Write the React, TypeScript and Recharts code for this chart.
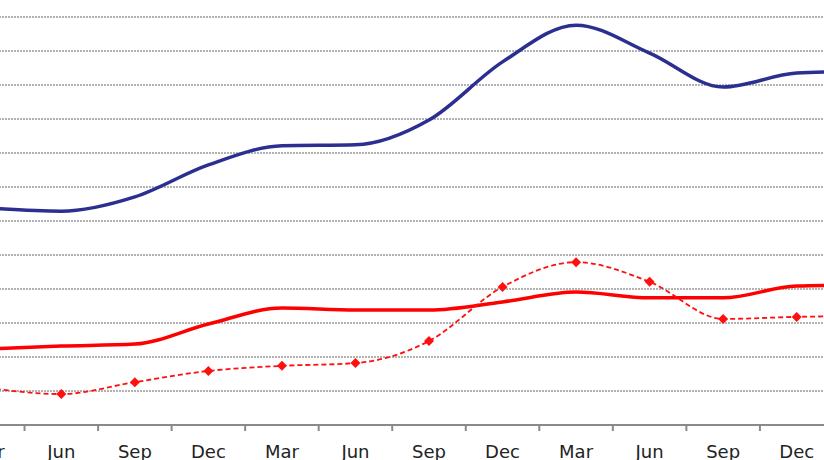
import { LineChart, Line, XAxis, YAxis, CartesianGrid } from 'recharts';

// quarter labels along the bottom (first and last sit partly outside the frame)
const MONTHS = ['Mar', 'Jun', 'Sep', 'Dec', 'Mar', 'Jun', 'Sep', 'Dec', 'Mar', 'Jun', 'Sep', 'Dec', 'Mar'];

// values, one gridline = 10
const BLUE = [63.8, 62.9, 67.1, 76.5, 82.1, 82.4, 89.7, 106.8, 117.6, 109.4, 99.4, 103.5, 104.1];
const RED = [22.4, 23.2, 23.8, 29.7, 34.4, 33.8, 33.8, 36.2, 39.1, 37.4, 37.4, 40.9, 41.2];
const RED_DASHED = [10.9, 9.1, 12.6, 15.9, 17.4, 18.2, 24.7, 40.6, 47.9, 42.1, 31.2, 31.8, 32.1];

const Y_TICKS = [0, 10, 20, 30, 40, 50, 60, 70, 80, 90, 100, 110, 120, 130];

const DATA = MONTHS.map((m, i) => ({
  t: i,
  m,
  blue: BLUE[i],
  red: RED[i],
  redDashed: RED_DASHED[i],
}));

// labels on the quarters, tick marks half way between them
const X_TICKS: number[] = [];
for (let i = -0.5; i <= MONTHS.length - 0.5; i += 0.5) X_TICKS.push(i);

const MonthTick = ({ x, y, payload }: any) => {
  const v = payload.value;
  if (Number.isInteger(v)) {
    return (
      <text x={x} y={y + 33} textAnchor="middle" fontSize={18} fill="#222"
        fontFamily="'DejaVu Sans', Verdana, sans-serif">
        {MONTHS[v]}
      </text>
    );
  }
  return <line x1={x} x2={x} y1={y} y2={y + 6} stroke="#8a8a8a" strokeWidth={2} />;
};

const Diamond = ({ cx, cy }: any) => {
  if (cx == null || cy == null) return null;
  const r = 5;
  return <path d={`M${cx},${cy - r}L${cx + r},${cy}L${cx},${cy + r}L${cx - r},${cy}Z`} fill="#ff1010" />;
};

export default function App() {
  return (
    <div style={{ position: 'fixed', left: 0, top: 0, width: 824, height: 460, overflow: 'hidden', background: '#fff' }}>
      <div style={{ position: 'absolute', left: -59, top: -27 }}>
        <LineChart width={976} height={492} data={DATA} margin={{ top: 10, right: 10, left: 10, bottom: 0 }}>
          <CartesianGrid vertical={false} stroke="#999" strokeDasharray="2 1" strokeWidth={1.5} />
          <XAxis
            dataKey="t"
            type="number"
            domain={[-0.5, MONTHS.length - 0.5]}
            ticks={X_TICKS}
            interval={0}
            tick={<MonthTick />}
            tickLine={false}
            tickSize={0}
            tickMargin={0}
            height={40}
            axisLine={{ stroke: '#8a8a8a', strokeWidth: 2 }}
          />
          <YAxis hide domain={[0, 130]} ticks={Y_TICKS} />
          <Line type="monotone" dataKey="blue" stroke="#2b2f8f" strokeWidth={3.5} dot={false} isAnimationActive={false} />
          <Line type="monotone" dataKey="red" stroke="#ff0000" strokeWidth={3.5} dot={false} isAnimationActive={false} />
          <Line type="monotone" dataKey="redDashed" stroke="#ff1010" strokeWidth={1.8} strokeDasharray="5 3"
            dot={<Diamond />} isAnimationActive={false} />
        </LineChart>
      </div>
    </div>
  );
}
